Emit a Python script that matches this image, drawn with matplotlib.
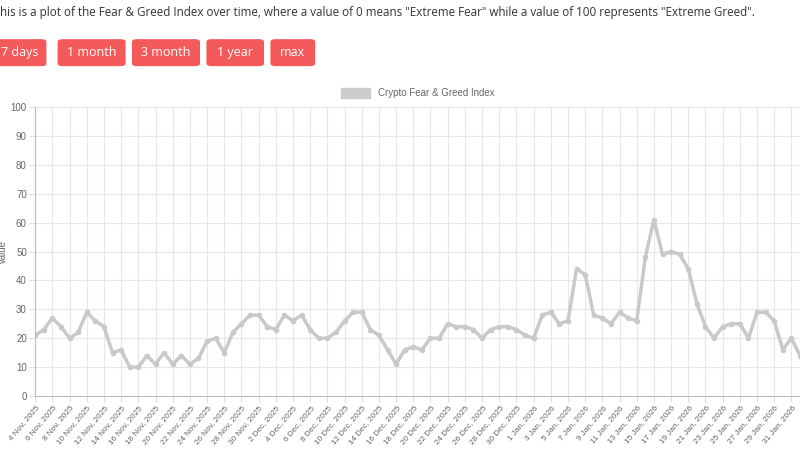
import matplotlib
matplotlib.use("Agg")
import matplotlib.pyplot as plt
from matplotlib.patches import FancyBboxPatch
import matplotlib.patches as mpatches
import numpy as np

values = [21,23,27,24,20,22,29,26,24,15,16,10,10,14,11,15,11,14,11,13,19,20,15,22,25,28,28,
          24,23,28,26,28,23,20,20,22,26,29,29,23,21,16,11,16,17,16,20,20,25,24,24,23,20,23,24,24,23,21,
          20,28,29,25,26,44,42,28,27,25,29,27,26,48,61,49,50,49,44,32,24,20,24,25,25,20,29,29,26,16,20,
          14]
labels = []
for d in range(4, 31): labels.append(f"{d} Nov, 2025")
for d in range(1, 32): labels.append(f"{d} Dec, 2025")
for d in range(1, 32): labels.append(f"{d} Jan, 2026")
labels.append("1 Feb, 2026")
buttons = ["7 days", "1 month", "3 month", "1 year", "max"]

fig = plt.figure(figsize=(8, 4.5), dpi=100)
fig.text(0.0, 0.973, 'his is a plot of the Fear & Greed Index over time, where a value of 0 means "Extreme Fear" while a value of 100 represents "Extreme Greed".',
         fontsize=8.4, color="#333333", va="center", family="Open Sans")
bx = [-0.01, 0.072, 0.165, 0.258, 0.338]
bw = [0.068, 0.085, 0.085, 0.072, 0.056]
for t, x, w in zip(buttons, bx, bw):
    p = FancyBboxPatch((x, 0.853), w, 0.06, boxstyle="round,pad=0,rounding_size=0.006",
                       transform=fig.transFigure, fc="#f55a5a", ec="none")
    fig.patches.append(p)
    fig.text(x + w/2, 0.883, t, color="white", fontsize=9, ha="center", va="center", family="Open Sans")

ax = fig.add_axes([0.044, 0.12, 0.956, 0.642])
x = np.arange(len(values))
ax.plot(x, values, color="#c9c9c9", lw=2.5, marker="o", ms=3)
ax.set_xlim(0, len(values)-1)
ax.set_ylim(0, 100)
ax.set_yticks(range(0, 101, 10))
ax.set_xticks(x[::2])
ax.set_xticklabels(labels[::2], rotation=50, ha="right", rotation_mode="anchor", fontsize=5.9,
                   color="#666666", family="Liberation Sans")
for t in ax.get_yticklabels():
    t.set_family("Liberation Sans")
ax.tick_params(axis="y", labelsize=7, colors="#666666")
ax.tick_params(length=4, color="#dddddd", pad=2)
ax.grid(True, color="#e6e6e6", lw=0.8)
for s in ["top", "right"]: ax.spines[s].set_visible(False)
for s in ["left", "bottom"]: ax.spines[s].set_color("#bbbbbb")
ax.set_ylabel("Value", fontsize=7, color="#666666", labelpad=2, family="Liberation Sans")
ax.legend(handles=[mpatches.Patch(color="#cccccc", label="Crypto Fear & Greed Index")],
          loc="lower center", bbox_to_anchor=(0.5, 1.0), frameon=False,
          prop={"family": "Liberation Sans", "size": 7},
          handlelength=3, handleheight=1.1, labelcolor="#666666")
fig.savefig("out.png", dpi=100)
